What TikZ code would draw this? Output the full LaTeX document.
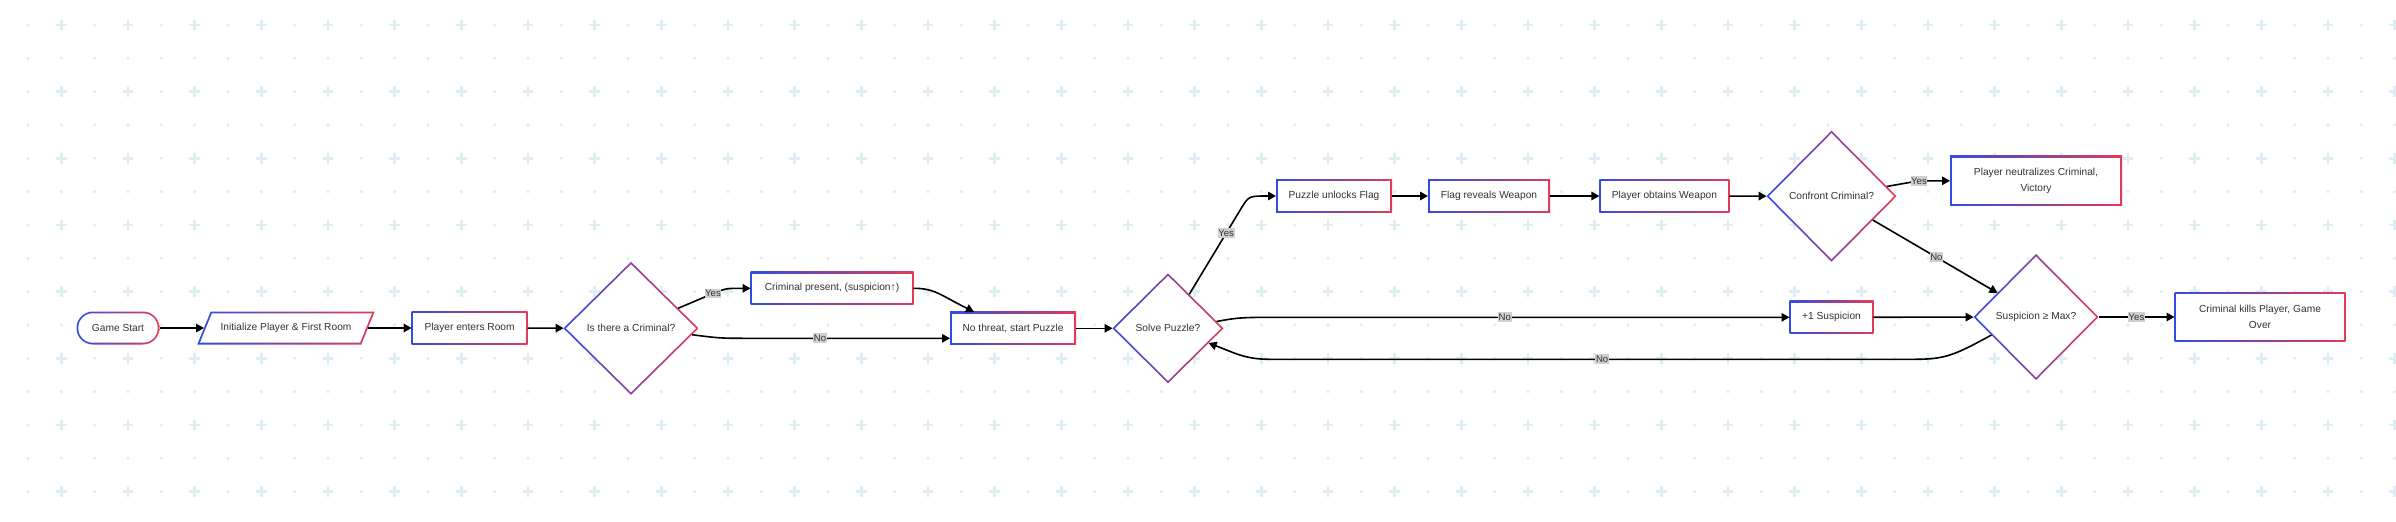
\documentclass[tikz,border=0pt]{standalone}
\usepackage{fontspec}
\setmainfont{Liberation Sans}
\usetikzlibrary{arrows.meta,shapes.geometric,calc}
\definecolor{cblue}{RGB}{50,75,228}
\definecolor{cred}{RGB}{228,58,88}
\definecolor{gridc}{RGB}{222,238,243}
\definecolor{txt}{RGB}{51,51,51}
\definecolor{lblgray}{RGB}{208,208,208}
\newcommand\myNodeFont{\fontsize{10.2}{15.7}\selectfont}
\newcommand\myLblFont{\fontsize{9.6}{11}\selectfont}
\pgfdeclarelayer{back}
\pgfsetlayers{back,main}
\begin{document}
\begin{tikzpicture}[x=1pt,y=-1pt,
  basenode/.style={font=\myNodeFont, text=txt, align=center, outer sep=0pt, inner sep=2pt},
  gradbox/.style={basenode, rectangle, fill=white, minimum height=33,
    path picture={
      \shade[left color=cblue,right color=cred] (path picture bounding box.south west) rectangle (path picture bounding box.north east);
      \fill[white] ([shift={(1.8pt,1.8pt)}]path picture bounding box.south west) rectangle ([shift={(-1.8pt,-1.8pt)}]path picture bounding box.north east);
    }},
  gradstadium/.style={basenode, rectangle, rounded corners=16.5pt, fill=white, minimum height=33,
    path picture={
      \shade[left color=cblue,right color=cred] (path picture bounding box.south west) rectangle (path picture bounding box.north east);
      \fill[white, rounded corners=14.6pt] ([shift={(1.8pt,1.8pt)}]path picture bounding box.south west) rectangle ([shift={(-1.8pt,-1.8pt)}]path picture bounding box.north east);
    }},
  graddiamond/.style={basenode, diamond, inner sep=0pt, fill=white,
    path picture={
      \shade[left color=cblue,right color=cred] (path picture bounding box.south west) rectangle (path picture bounding box.north east);
      \fill[white] ([xshift=2.5pt]path picture bounding box.west) -- ([yshift=-2.5pt]path picture bounding box.north) -- ([xshift=-2.5pt]path picture bounding box.east) -- ([yshift=2.5pt]path picture bounding box.south) -- cycle;
    }},
  plainnode/.style={basenode, rectangle, minimum height=33},
  edge/.style={draw=black, line width=1.6pt, -{Triangle[length=8pt,width=8.5pt]}},
  lbl/.style={fill=lblgray, font=\myLblFont, text=txt, inner xsep=0.6pt, inner ysep=1.5pt}
]
\useasboundingbox (0,0) rectangle (2396,522);
\begin{pgfonlayer}{back}
\fill[white] (0,0) rectangle (2396,522);
\foreach \i in {-1,...,71}{
  \foreach \j in {0,...,14}{
    \pgfmathsetmacro\gx{28+33.333*\i}
    \pgfmathsetmacro\gy{25+33.333*\j}
    \ifodd\i\relax
      \ifodd\j\relax
        \fill[gridc] (\gx,\gy) circle[radius=1.8pt];
      \else
        \draw[gridc, line width=2.6pt] (\gx-5.3,\gy) -- (\gx+5.3,\gy) (\gx,\gy-5.3) -- (\gx,\gy+5.3);
      \fi
    \else
      \fill[gridc] (\gx,\gy) circle[radius=1.8pt];
    \fi
  }
}
\end{pgfonlayer}

% nodes
\node[gradstadium, minimum width=83] (start) at (118,328) {Game Start};
\node[plainnode, minimum width=164] (init) at (286,328) {Initialize Player \& First Room};
\node[gradbox, minimum width=116] (enter) at (469.6,328) {Player enters Room};
\node[graddiamond, minimum width=135, minimum height=133] (crim) at (631,328.3) {Is there a Criminal?};
\node[gradbox, minimum width=163] (present) at (832,288.3) {Criminal present, (suspicion↑)};
\node[gradbox, minimum width=126] (nothreat) at (1013,328.3) {No threat, start Puzzle};
\node[graddiamond, minimum width=111, minimum height=110] (solve) at (1168,328.3) {Solve Puzzle?};
\node[gradbox, minimum width=116] (unlock) at (1334,196) {Puzzle unlocks Flag};
\node[gradbox, minimum width=122] (reveal) at (1489,196) {Flag reveals Weapon};
\node[gradbox, minimum width=130] (obtain) at (1664.4,196) {Player obtains Weapon};
\node[graddiamond, minimum width=130, minimum height=131] (confront) at (1831.5,196.2) {Confront Criminal?};
\node[gradbox, minimum width=172, minimum height=50] (victory) at (2036,180.8) {Player neutralizes Criminal,\\Victory};
\node[graddiamond, minimum width=125, minimum height=126] (susp) at (2036,317) {Suspicion ≥ Max?};
\node[gradbox, minimum width=84] (plus) at (1831.5,317.3) {+1 Suspicion};
\node[gradbox, minimum width=171, minimum height=49] (over) at (2260,317) {Criminal kills Player, Game\\Over};

% parallelogram border for init
\begin{pgfonlayer}{back}
\shade[left color=cblue,right color=cred] ([xshift=-6.7pt]init.south west) -- ([xshift=-6.7pt]init.south east) -- ([xshift=6.7pt]init.north east) -- ([xshift=6.7pt]init.north west) -- cycle;
\fill[white] ([xshift=-4pt,yshift=1.8pt]init.south west) -- ([xshift=-8pt,yshift=1.8pt]init.south east) -- ([xshift=4pt,yshift=-1.8pt]init.north east) -- ([xshift=8pt,yshift=-1.8pt]init.north west) -- cycle;
\end{pgfonlayer}

% edges
\draw[edge] (start) -- (init);
\draw[edge] (init) -- (enter);
\draw[edge] (enter) -- (crim);
\draw[edge] (crim.23) -- (713,293.5) node[lbl]{Yes} .. controls (726,288.3) .. (present.west);
\draw[edge] (present.east) .. controls (935,288.3) and (940,295) .. ([xshift=-39pt]nothreat.north);
\draw[edge] (crim.-6) .. controls (720,338.3) .. (750,338.3) -- node[lbl,pos=0.35]{No} ([yshift=-10pt]nothreat.west);
\draw[edge] (nothreat) -- (solve);
\draw[edge] (solve.58) -- node[lbl,pos=0.7]{Yes} (1242,207) .. controls (1249,196) .. (unlock.west);
\draw[edge] (unlock) -- (reveal);
\draw[edge] (reveal) -- (obtain);
\draw[edge] (obtain) -- (confront);
\draw[edge] (confront.10) -- (1919,180.8) node[lbl]{Yes} -- (victory.west);
\draw[edge] (confront.-30) -- node[lbl,pos=0.51]{No} (susp.148);
\draw[edge] (solve.8) .. controls (1240,317.3) .. (1290,317.3) -- node[lbl,pos=0.43]{No} (plus.west);
\draw[edge] (plus) -- (susp);
\draw[edge] (susp) -- node[lbl]{Yes} (over);
\draw[edge] (susp.202) .. controls (1955,355) and (1945,359.3) .. (1915,359.3) -- node[lbl,pos=0.485]{No} (1270,359.3) .. controls (1245,359.3) and (1235,353) .. (solve.-20);
\end{tikzpicture}
\end{document}
